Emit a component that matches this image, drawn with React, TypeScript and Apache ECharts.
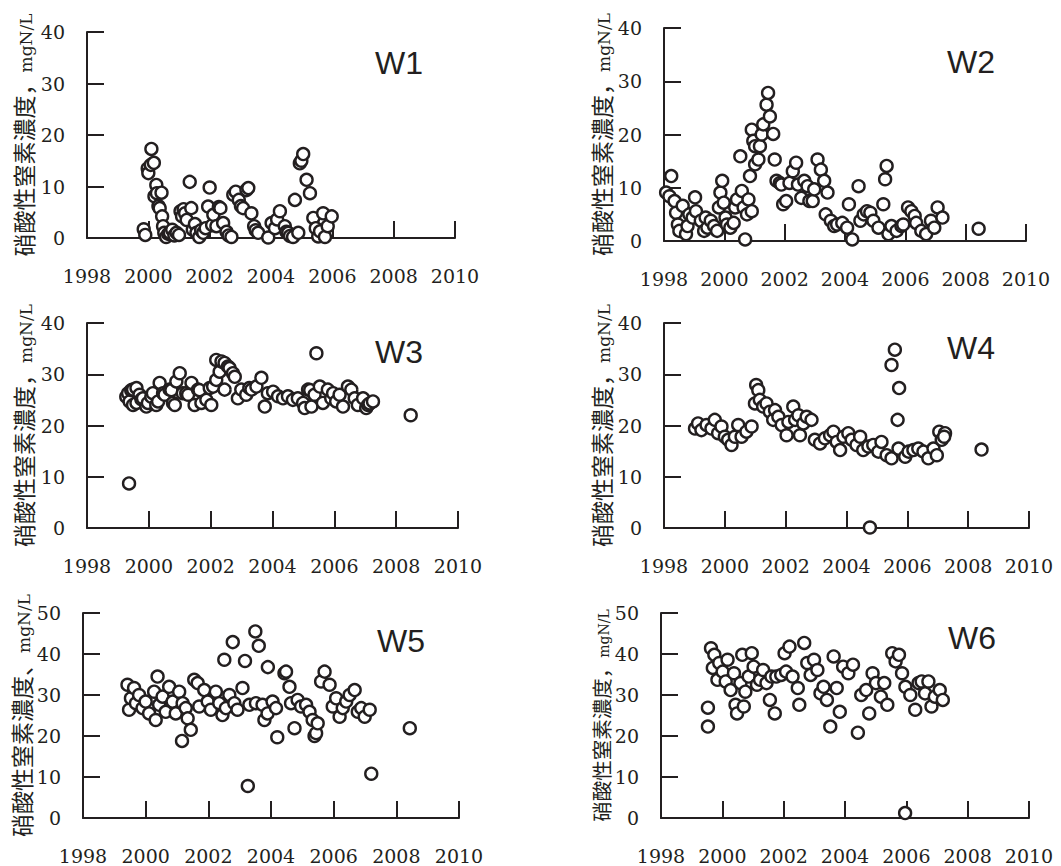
import React, { useEffect, useRef } from "react";
import * as echarts from "echarts";

// ---- data: [decimal year, nitrate-N concentration mgN/L] ----
const w1: [number, number][] = [
  [1999.85,1.7],[1999.9,0.6],[1999.98,13.5],[2000.0,12.6],[2000.08,14.2],[2000.1,17.3],[2000.18,14.6],[2000.2,8.1],
  [2000.26,10.3],[2000.28,8.7],[2000.33,6.2],[2000.37,5.8],[2000.43,8.8],[2000.45,4.2],[2000.48,2.3],[2000.52,1.0],
  [2000.58,0.2],[2000.65,0.8],[2000.7,1.0],[2000.78,1.6],[2000.85,0.5],[2000.92,1.0],[2001.0,0.6],[2001.05,5.2],
  [2001.1,4.2],[2001.15,5.6],[2001.2,4.8],[2001.25,3.5],[2001.35,10.9],[2001.4,5.8],[2001.45,1.6],[2001.52,2.7],
  [2001.57,1.0],[2001.66,0.2],[2001.72,1.5],[2001.79,1.0],[2001.87,1.9],[2001.95,6.1],[2002.0,9.8],[2002.08,2.5],
  [2002.12,4.5],[2002.22,2.3],[2002.3,6.0],[2002.35,5.8],[2002.44,2.9],[2002.55,1.2],[2002.62,0.5],[2002.71,0.2],
  [2002.77,8.4],[2002.85,9.0],[2002.95,7.4],[2003.02,6.2],[2003.09,5.8],[2003.2,9.3],[2003.26,9.7],[2003.36,4.8],
  [2003.45,2.3],[2003.5,1.5],[2003.58,1.0],[2003.91,0.1],[2004.02,2.9],[2004.13,1.9],[2004.2,3.6],[2004.29,5.2],
  [2004.45,2.3],[2004.5,1.2],[2004.56,1.0],[2004.62,0.4],[2004.72,0.2],[2004.78,7.4],[2004.89,1.0],[2004.94,14.5],
  [2004.99,15.0],[2005.05,16.3],[2005.16,11.3],[2005.27,8.7],[2005.38,3.9],[2005.46,1.9],[2005.54,0.3],[2005.6,1.3],
  [2005.7,4.8],[2005.76,0.2],[2005.85,2.3],[2005.98,4.2]
];

const w2: [number, number][] = [
  [1998.07,9.1],[1998.18,8.4],[1998.24,12.2],[1998.35,7.5],[1998.4,5.3],[1998.46,3.1],[1998.51,1.9],[1998.62,6.6],
  [1998.73,1.3],[1998.78,2.8],[1998.84,5.0],[1998.95,4.4],[1999.03,8.2],[1999.06,5.6],[1999.22,3.8],[1999.33,1.9],
  [1999.38,4.4],[1999.44,2.5],[1999.55,3.8],[1999.66,2.8],[1999.76,1.9],[1999.82,6.3],[1999.87,9.1],[1999.93,11.3],
  [1999.98,7.2],[2000.04,4.4],[2000.09,3.1],[2000.2,2.5],[2000.31,3.4],[2000.36,6.3],[2000.42,7.8],[2000.53,15.9],
  [2000.58,9.4],[2000.64,6.3],[2000.69,0.3],[2000.75,5.0],[2000.8,7.8],[2000.85,12.2],[2000.91,20.9],[2000.96,18.8],
  [2000.91,5.6],[2001.02,17.8],[2001.02,14.4],[2001.13,15.3],[2001.18,17.8],[2001.24,20.0],[2001.29,21.9],[2001.4,25.6],
  [2001.45,27.8],[2001.51,23.4],[2001.62,20.1],[2001.67,15.3],[2001.73,11.3],[2001.84,10.9],[2001.89,10.6],[2001.95,6.9],
  [2002.05,7.5],[2002.16,10.9],[2002.27,13.1],[2002.38,14.7],[2002.44,10.6],[2002.55,8.1],[2002.65,11.3],[2002.76,10.3],
  [2002.82,7.5],[2002.93,7.5],[2002.98,9.7],[2003.09,15.3],[2003.2,13.4],[2003.31,11.3],[2003.42,9.1],[2003.36,5.0],
  [2003.53,3.8],[2003.64,2.8],[2003.74,3.1],[2003.91,3.4],[2004.07,2.5],[2004.13,6.9],[2004.24,0.3],[2004.45,10.3],
  [2004.51,3.8],[2004.62,5.0],[2004.73,5.6],[2004.84,5.3],[2004.94,3.8],[2005.11,2.5],[2005.27,6.9],[2005.33,11.6],
  [2005.38,14.1],[2005.44,1.3],[2005.54,2.8],[2005.71,1.9],[2005.87,2.8],[2005.93,3.1],[2006.09,6.3],[2006.2,5.6],
  [2006.31,4.7],[2006.36,3.4],[2006.53,1.9],[2006.69,1.3],[2006.85,3.8],[2006.96,2.5],[2007.07,6.3],[2007.23,4.4],
  [2008.43,2.3]
];

const w3: [number, number][] = [
  [1999.36,8.7],[1999.27,25.6],[1999.33,26.3],[1999.38,24.7],[1999.43,26.9],[1999.49,27.0],[1999.49,24.0],[1999.6,24.4],
  [1999.6,27.3],[1999.7,26.0],[1999.76,25.1],[1999.81,25.3],[1999.92,23.7],[1999.97,24.4],[2000.08,25.6],[2000.13,26.3],
  [2000.24,24.0],[2000.3,24.7],[2000.35,28.3],[2000.46,26.3],[2000.51,26.0],[2000.67,27.0],[2000.73,26.9],[2000.78,24.4],
  [2000.84,24.0],[2000.89,28.6],[2001.0,30.2],[2001.1,26.3],[2001.21,26.3],[2001.27,26.0],[2001.38,28.3],[2001.48,24.0],
  [2001.59,27.0],[2001.64,26.9],[2001.7,24.4],[2001.86,25.0],[2001.97,27.3],[2002.02,24.0],[2002.08,27.6],[2002.18,28.9],
  [2002.18,32.8],[2002.29,30.5],[2002.35,32.5],[2002.45,32.2],[2002.45,27.0],[2002.56,31.5],[2002.61,31.2],[2002.72,30.2],
  [2002.78,29.5],[2002.88,25.3],[2002.99,27.0],[2003.15,26.0],[2003.25,27.3],[2003.32,27.0],[2003.48,27.6],[2003.64,29.3],
  [2003.75,23.7],[2003.85,26.3],[2004.02,26.6],[2004.18,25.7],[2004.34,25.3],[2004.5,25.7],[2004.66,25.0],[2004.82,25.3],
  [2004.99,24.4],[2005.04,23.4],[2005.15,27.0],[2005.22,26.9],[2005.26,23.7],[2005.36,26.0],[2005.42,34.1],[2005.53,27.6],
  [2005.63,24.4],[2005.79,27.0],[2005.9,25.3],[2005.96,26.3],[2006.06,24.7],[2006.17,26.0],[2006.28,23.7],[2006.44,27.6],
  [2006.55,27.0],[2006.66,25.3],[2006.76,24.0],[2006.93,25.3],[2007.03,23.4],[2007.09,24.0],[2007.14,24.3],[2007.25,24.7],
  [2008.47,22.0]
];

const w4: [number, number][] = [
  [1999.02,19.4],[1999.12,20.4],[1999.23,19.1],[1999.4,20.1],[1999.56,19.4],[1999.67,21.1],[1999.78,18.5],[1999.89,19.8],
  [2000.0,17.8],[2000.11,17.2],[2000.22,16.2],[2000.33,17.8],[2000.44,20.1],[2000.55,17.8],[2000.71,18.8],[2000.88,19.8],
  [2000.99,24.3],[2001.03,27.9],[2001.1,26.9],[2001.15,25.0],[2001.26,23.7],[2001.37,24.3],[2001.48,22.7],[2001.59,21.1],
  [2001.65,23.0],[2001.76,21.7],[2001.87,20.1],[2002.03,18.1],[2002.09,20.7],[2002.25,23.7],[2002.31,21.1],[2002.42,22.0],
  [2002.47,18.1],[2002.58,20.4],[2002.69,21.7],[2002.85,21.1],[2002.96,17.2],[2003.13,16.5],[2003.29,17.5],[2003.46,18.1],
  [2003.57,18.8],[2003.68,16.8],[2003.79,15.2],[2003.9,17.8],[2004.06,18.5],[2004.17,17.2],[2004.33,16.2],[2004.45,17.8],
  [2004.55,15.2],[2004.72,15.9],[2004.77,0.1],[2004.88,16.2],[2005.05,14.9],[2005.15,16.8],[2005.32,14.2],[2005.48,31.8],
  [2005.48,13.6],[2005.59,34.8],[2005.68,21.1],[2005.71,15.5],[2005.73,27.3],[2005.93,13.9],[2006.04,14.9],[2006.2,15.2],
  [2006.36,15.5],[2006.53,14.9],[2006.69,13.6],[2006.86,15.5],[2006.97,14.2],[2007.05,18.8],[2007.13,17.2],[2007.24,18.5],
  [2007.21,17.8],[2008.44,15.3]
];

const w5: [number, number][] = [
  [1999.42,32.5],[1999.47,26.4],[1999.53,29.2],[1999.63,31.7],[1999.69,28.0],[1999.79,30.0],[1999.9,26.8],[2000.0,28.4],
  [2000.11,25.5],[2000.27,30.8],[2000.32,23.9],[2000.38,34.5],[2000.43,27.6],[2000.54,29.6],[2000.64,25.9],[2000.75,32.0],
  [2000.86,28.4],[2000.96,25.5],[2001.07,30.8],[2001.18,28.0],[2001.16,18.8],[2001.28,26.8],[2001.34,24.3],[2001.44,21.5],
  [2001.55,33.7],[2001.66,32.9],[2001.71,27.2],[2001.87,31.2],[2001.98,28.4],[2002.08,26.4],[2002.24,30.8],[2002.35,28.0],
  [2002.45,25.1],[2002.51,38.6],[2002.56,26.8],[2002.67,30.0],[2002.78,42.9],[2002.83,28.0],[2002.93,26.4],[2003.09,31.7],
  [2003.17,38.3],[2003.26,7.8],[2003.31,27.6],[2003.5,45.5],[2003.52,28.0],[2003.61,42.0],[2003.73,27.6],[2003.79,23.9],
  [2003.89,25.5],[2003.9,36.8],[2004.05,28.4],[2004.16,26.8],[2004.2,19.7],[2004.43,35.3],[2004.48,35.7],[2004.59,32.0],
  [2004.64,28.0],[2004.75,21.9],[2004.85,28.8],[2004.96,27.2],[2005.12,27.6],[2005.23,25.9],[2005.33,23.9],[2005.39,20.0],
  [2005.44,20.7],[2005.49,23.1],[2005.6,33.3],[2005.71,35.7],[2005.87,32.5],[2005.97,27.2],[2006.08,29.2],[2006.19,24.7],
  [2006.29,26.8],[2006.4,28.4],[2006.51,30.0],[2006.67,31.2],[2006.77,25.9],[2006.88,26.8],[2006.99,24.7],[2007.15,26.4],
  [2007.2,10.8],[2008.43,21.9]
];

const w6: [number, number][] = [
  [1999.53,26.9],[1999.53,22.3],[1999.63,41.4],[1999.69,36.6],[1999.74,39.8],[1999.84,33.7],[1999.9,37.8],[2000.01,35.7],
  [2000.11,33.3],[2000.17,38.6],[2000.27,31.2],[2000.38,35.3],[2000.43,27.6],[2000.48,25.5],[2000.59,32.9],[2000.65,39.8],
  [2000.7,27.2],[2000.75,30.8],[2000.86,34.5],[2000.96,40.2],[2001.02,36.9],[2001.13,32.5],[2001.23,33.7],[2001.33,36.1],
  [2001.44,32.9],[2001.55,28.8],[2001.6,34.5],[2001.71,25.5],[2001.76,34.5],[2001.92,34.9],[2002.03,40.2],[2002.08,35.7],
  [2002.19,41.8],[2002.29,34.5],[2002.46,31.7],[2002.51,27.6],[2002.67,42.7],[2002.77,37.8],[2002.88,34.9],[2002.99,38.6],
  [2003.1,36.1],[2003.2,30.4],[2003.3,32.0],[2003.41,28.8],[2003.52,22.3],[2003.63,39.4],[2003.73,31.7],[2003.83,25.9],
  [2003.94,36.9],[2004.11,35.3],[2004.26,37.4],[2004.42,20.8],[2004.53,30.0],[2004.69,31.2],[2004.79,25.5],[2004.9,35.3],
  [2005.01,32.9],[2005.17,29.6],[2005.28,32.9],[2005.38,27.6],[2005.54,40.2],[2005.65,38.2],[2005.76,39.8],[2005.86,35.3],
  [2005.96,1.2],[2005.97,32.0],[2006.13,30.0],[2006.29,26.4],[2006.4,32.9],[2006.5,33.3],[2006.61,30.4],[2006.72,33.3],
  [2006.82,27.2],[2006.93,29.6],[2007.09,31.2],[2007.19,28.8]
];

const wellNames = ["W1", "W2", "W3", "W4", "W5", "W6"];
const yMaxes = [40, 40, 40, 40, 50, 50];
const xMin = 1998;
const xMax = 2010;
const xStep = 2;
const yStep = 10;
const yNameMain = "硝酸性窒素濃度";
const yNameSep = ["，", "，", "，", "，", "、", "，"];
const yNameUnit = "mgN/L";

// ---- layout (pixels) ----
const INK = "#231f20";
const SERIF = "DejaVu Serif";
const CJK = "Noto Sans CJK JP";
const SANS = "Liberation Sans";
const layout = [
  { left: 87, top: 32, width: 368, height: 206, tx: 375, ty: 63, gap: 53, cjk: 23, unit: 17 },
  { left: 664, top: 28, width: 362, height: 213, tx: 947, ty: 62, gap: 52, cjk: 23, unit: 17 },
  { left: 87, top: 323, width: 371, height: 205, tx: 375, ty: 352, gap: 53, cjk: 23, unit: 17 },
  { left: 664, top: 323, width: 365, height: 205, tx: 947, ty: 348, gap: 52, cjk: 23, unit: 17 },
  { left: 83, top: 613, width: 376, height: 205, tx: 377, ty: 641, gap: 50, cjk: 23, unit: 17 },
  { left: 661, top: 613, width: 368, height: 205, tx: 948, ty: 638, gap: 49, cjk: 20.5, unit: 14 },
];

const allData = [w1, w2, w3, w4, w5, w6];

export default function App() {
  const ref = useRef<HTMLDivElement>(null);
  useEffect(() => {
    if (!ref.current) return;
    const chart = echarts.init(ref.current, null, { renderer: "svg" });
    const grid: any[] = [];
    const xAxis: any[] = [];
    const yAxis: any[] = [];
    const series: any[] = [];
    const graphic: any[] = [];
    layout.forEach((L, i) => {
      grid.push({ left: L.left, top: L.top, width: L.width, height: L.height });
      xAxis.push({
        type: "value",
        gridIndex: i,
        min: xMin,
        max: xMax,
        interval: xStep,
        axisLine: { show: true, onZero: false, lineStyle: { color: INK, width: 2 } },
        axisTick: { show: true, inside: true, length: 17, lineStyle: { color: INK, width: 2 } },
        axisLabel: {
          margin: 28,
          fontFamily: SERIF,
          fontSize: 19,
          color: INK,
          formatter: (v: number) => String(v),
        },
        splitLine: { show: false },
      });
      yAxis.push({
        type: "value",
        gridIndex: i,
        min: 0,
        max: yMaxes[i],
        interval: yStep,
        axisLine: { show: true, lineStyle: { color: INK, width: 2 } },
        axisTick: { show: true, inside: true, length: 17, lineStyle: { color: INK, width: 2 } },
        axisLabel: {
          margin: 22,
          fontFamily: SERIF,
          fontSize: 19,
          color: INK,
          formatter: (v: number) => String(v),
        },
        splitLine: { show: false },
        name: `{a|${yNameMain}${yNameSep[i]}}{b|${yNameUnit}}`,
        nameLocation: "middle",
        nameRotate: 90,
        nameGap: L.gap,
        nameTextStyle: {
          rich: {
            a: { fontFamily: CJK, fontSize: L.cjk, color: INK, verticalAlign: "bottom" },
            b: { fontFamily: SERIF, fontSize: L.unit, color: INK, verticalAlign: "bottom" },
          },
        },
      });
      series.push({
        type: "scatter",
        xAxisIndex: i,
        yAxisIndex: i,
        data: allData[i],
        symbol: "circle",
        symbolSize: 12,
        itemStyle: { color: "#ffffff", borderColor: INK, borderWidth: 2.4, opacity: 1 },
        emphasis: { disabled: true },
      });
      graphic.push({
        type: "text",
        x: L.tx,
        y: L.ty,
        style: {
          text: wellNames[i],
          fontFamily: SANS,
          fontSize: 32,
          fill: INK,
          align: "left",
          verticalAlign: "middle",
        },
      });
    });
    chart.setOption({ animation: false, backgroundColor: "#ffffff", grid, xAxis, yAxis, series, graphic });
    return () => chart.dispose();
  }, []);
  return (
    <div
      ref={ref}
      style={{ position: "fixed", left: 0, top: 0, width: 1061, height: 866, background: "#fff" }}
    />
  );
}
